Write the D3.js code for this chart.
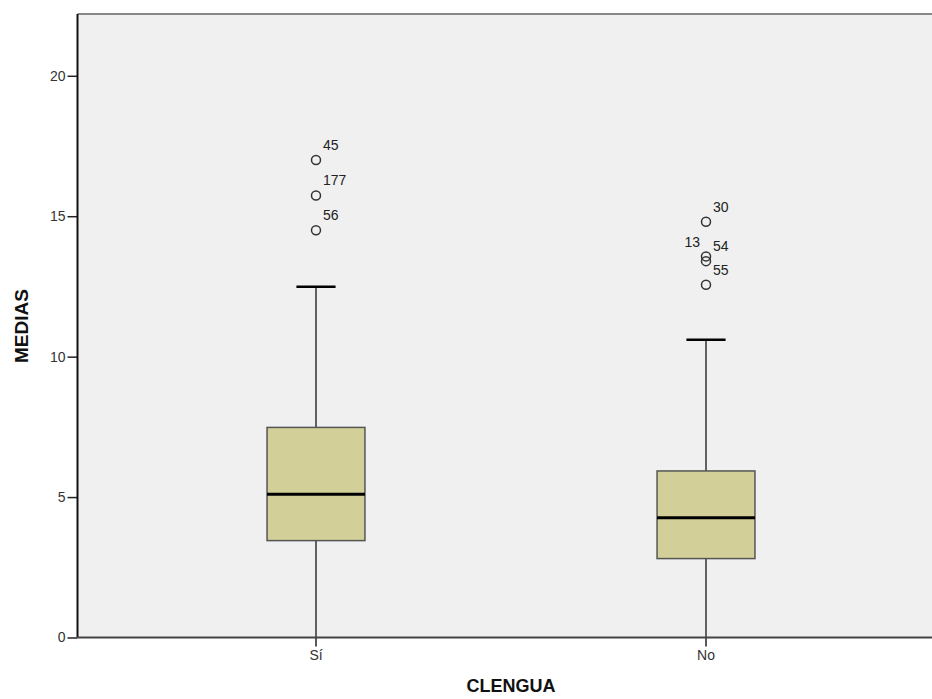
<!DOCTYPE html>
<html><head><meta charset="utf-8">
<script src="https://cdn.jsdelivr.net/npm/d3@7"></script>
<style>body{margin:0;background:#fff}svg{display:block}text{font-family:Arial,"Liberation Sans",sans-serif}</style>
</head><body>
<svg id="c" width="932" height="699"></svg>
<script>
const categories = ["Sí", "No"];
const whiskerLow = [0, 0];
const q1 = [3.45, 2.81];
const median = [5.1, 4.26];
const q3 = [7.48, 5.93];
const whiskerHigh = [12.49, 10.6];
const outlierCat = ["Sí", "Sí", "Sí", "No", "No", "No", "No"];
const outlierVal = [17.0, 15.74, 14.5, 14.8, 13.57, 13.4, 12.56];
const outlierLabel = ["45", "177", "56", "30", "13", "54", "55"];
const yTicks = [0, 5, 10, 15, 20];

(function () {
const svg = d3.select("#c");
const pLeft = 77.5, pTop = 14, pBottom = 637.5, pRight = 944.5;
const x = d3.scaleBand().domain(categories).range([pLeft, pRight]).paddingInner(0.749).paddingOuter(0.486);
const y = d3.scaleLinear().domain([0, 22.2]).range([pBottom, pTop]);
const bw = x.bandwidth();

svg.append("rect").attr("x", pLeft).attr("y", pTop).attr("width", 932 - pLeft).attr("height", pBottom - pTop).attr("fill", "#f0f0f0");
svg.append("line").attr("x1", pLeft).attr("x2", 932).attr("y1", pTop).attr("y2", pTop).attr("stroke", "#888").attr("stroke-width", 2);

const data = categories.map((c, i) => ({c, lo: whiskerLow[i], q1: q1[i], med: median[i], q3: q3[i], hi: whiskerHigh[i]}));
const g = svg.append("g");
data.forEach(d => {
  const cx = x(d.c) + bw / 2;
  g.append("line").attr("x1", cx).attr("x2", cx).attr("y1", y(d.q3)).attr("y2", y(d.hi)).attr("stroke", "#333").attr("stroke-width", 1.5);
  g.append("line").attr("x1", cx).attr("x2", cx).attr("y1", y(d.q1)).attr("y2", y(d.lo)).attr("stroke", "#333").attr("stroke-width", 1.5);
  g.append("line").attr("x1", cx - bw * 0.2).attr("x2", cx + bw * 0.2).attr("y1", y(d.hi)).attr("y2", y(d.hi)).attr("stroke", "#000").attr("stroke-width", 2.5);
  g.append("rect").attr("x", x(d.c)).attr("y", y(d.q3)).attr("width", bw).attr("height", y(d.q1) - y(d.q3))
    .attr("fill", "#d3cf98").attr("stroke", "#555").attr("stroke-width", 1.5);
  g.append("line").attr("x1", x(d.c)).attr("x2", x(d.c) + bw).attr("y1", y(d.med)).attr("y2", y(d.med)).attr("stroke", "#000").attr("stroke-width", 3);
});

outlierVal.forEach((v, i) => {
  const cx = x(outlierCat[i]) + bw / 2;
  g.append("circle").attr("cx", cx).attr("cy", y(v)).attr("r", 4.5).attr("fill", "none").attr("stroke", "#333").attr("stroke-width", 1.5);
  const lab = outlierLabel[i];
  const t = g.append("text").attr("font-size", 14).attr("fill", "#222").text(lab);
  if (lab === "13") {
    t.attr("x", cx - 6).attr("y", y(v) - 9).attr("text-anchor", "end");
  } else {
    t.attr("x", cx + 7).attr("y", y(v) - 10);
  }
});

const yAxis = d3.axisLeft(y).tickValues(yTicks).tickSize(10).tickPadding(2);
const ya = svg.append("g").attr("transform", `translate(${pLeft},0)`).call(yAxis);
ya.select(".domain").remove();
ya.selectAll("line").attr("stroke", "#222").attr("stroke-width", 1.5);
ya.selectAll("text").attr("font-size", 14).attr("fill", "#333").attr("font-family", "Arial, 'Liberation Sans', sans-serif");
svg.append("line").attr("x1", pLeft).attr("x2", pLeft).attr("y1", pTop).attr("y2", pBottom).attr("stroke", "#111").attr("stroke-width", 2);

const xAxis = d3.axisBottom(x).tickSize(9).tickPadding(4);
const xa = svg.append("g").attr("transform", `translate(0,${pBottom})`).call(xAxis);
xa.select(".domain").remove();
xa.selectAll("line").attr("stroke", "#222").attr("stroke-width", 1.5);
xa.selectAll("text").attr("font-size", 14).attr("fill", "#333").attr("font-family", "Arial, 'Liberation Sans', sans-serif");
svg.append("line").attr("x1", pLeft).attr("x2", 932).attr("y1", pBottom).attr("y2", pBottom).attr("stroke", "#444").attr("stroke-width", 2);

svg.append("text").attr("x", (pLeft + pRight) / 2).attr("y", 692).attr("text-anchor", "middle").attr("font-size", 18).attr("font-weight", "bold").attr("fill", "#111").text("CLENGUA");
svg.append("text").attr("transform", "translate(28,326) rotate(-90)").attr("text-anchor", "middle").attr("font-size", 19).attr("font-weight", "bold").attr("fill", "#111").text("MEDIAS");
})();
</script>
</body></html>
